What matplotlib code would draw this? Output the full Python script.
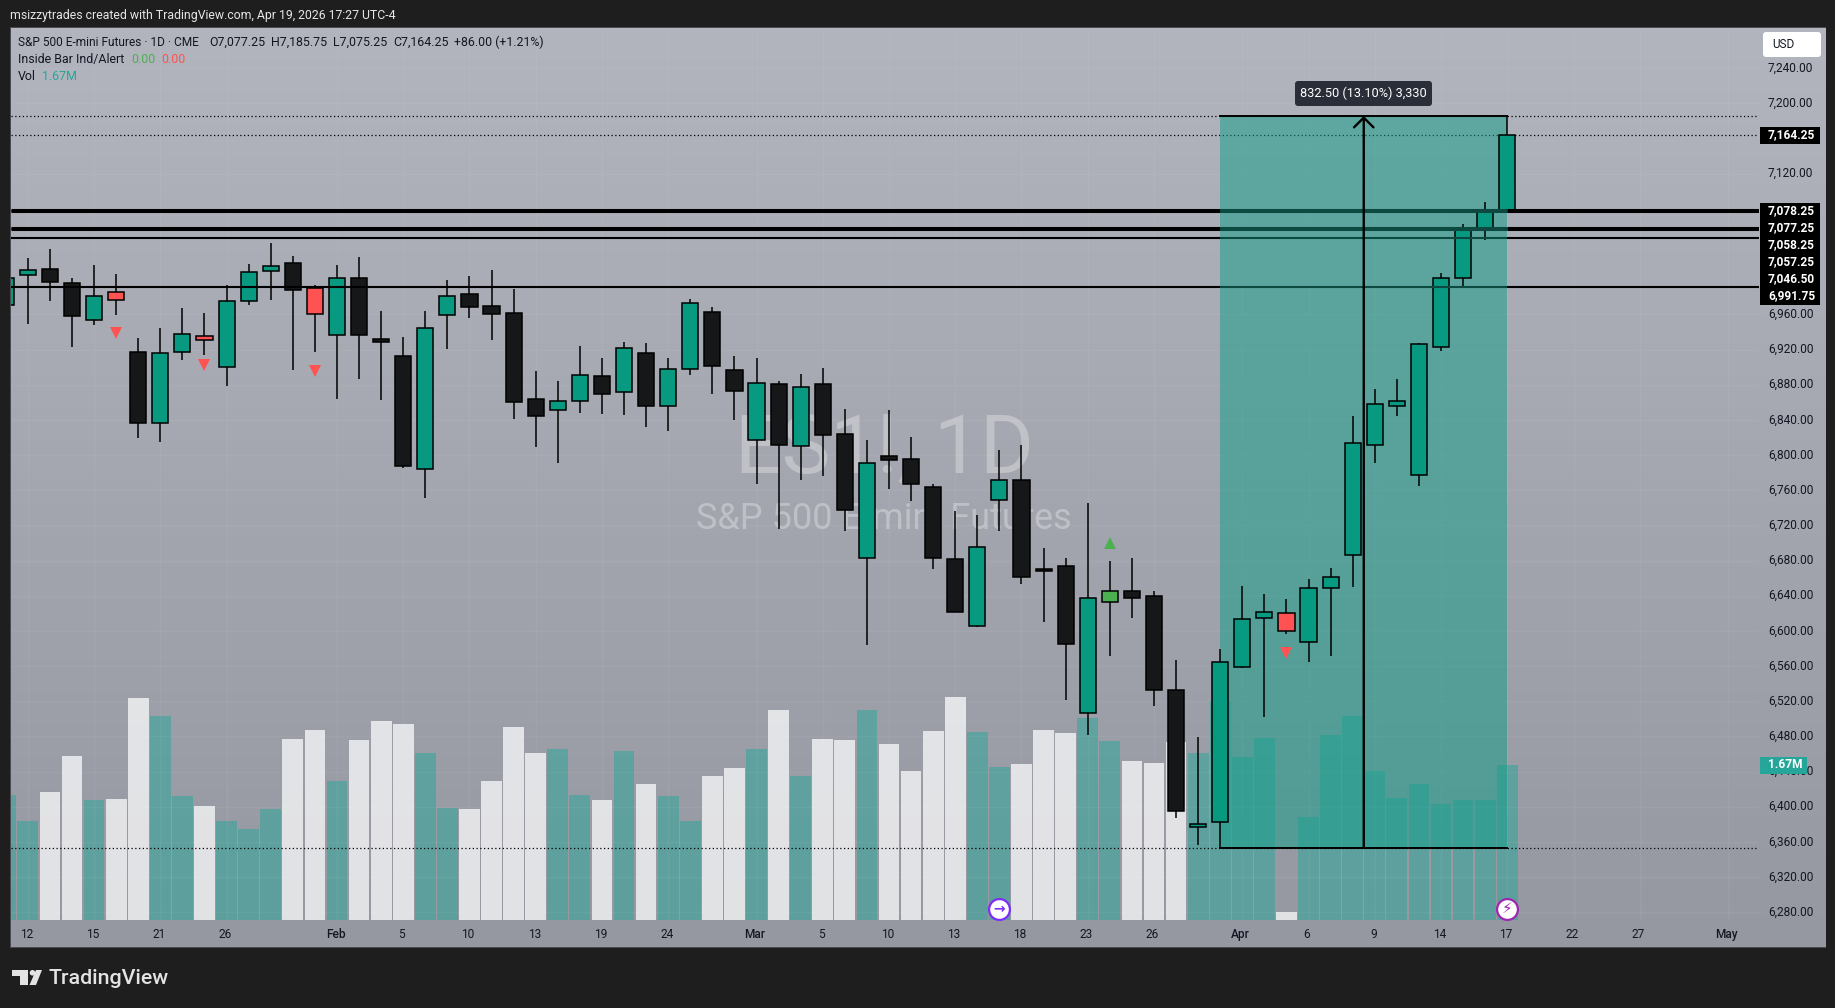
# Recreates the ES1! daily TradingView snapshot
import numpy as np
import matplotlib
matplotlib.use("Agg")
import matplotlib.pyplot as plt
from matplotlib.patches import Rectangle, FancyBboxPatch, Polygon, Circle
from matplotlib.transforms import Affine2D, ScaledTranslation

W, H = 1835, 1008
plt.rcParams['font.family'] = ['Roboto', 'DejaVu Sans']

# daily bars, first one is cut by the left edge of the pane
opens = [6971,7005,7012,6996,6954,6985,6917,6837,6917,6936,6900,6975,7009,7019,6990,6937,7002,6932,6913,6784,
         6959,6983,6970,6962,6864,6851,6861,6890,6872,6916,6856,6898,6963,6897,6817,6881,6810,6881,6824,6683,
         6799,6795,6764,6682,6606,6749,6772,6671,6674,6507,6633,6645,6640,6533,6377,6383,6559,6615,6620,6587,
         6649,6686,6812,6856,6777,6923,7002,7056,7077.25]
highs = [7010,7024,7034,7001,7016,7006,6933,6944,6967,6962,6994,7017,7041,7027,6993,7016,7025,6964,6934,6964,
         6999,7004,7010,6989,6896,6884,6924,6911,6929,6928,6911,6978,6969,6913,6910,6884,6892,6899,6852,6817,
         6851,6821,6767,6736,6732,6806,6812,6694,6683,6746,6679,6683,6645,6567,6479,6580,6651,6642,6636,6659,
         6672,6845,6875,6886,6927,7007,7063,7088,7185.75]
lows = [6960,6949,6975,6923,6948,6959,6820,6815,6908,6914,6879,6971,6976,6897,6917,6864,6887,6863,6785,6751,
        6921,6956,6931,6841,6809,6791,6848,6847,6846,6832,6827,6891,6869,6840,6767,6716,6772,6776,6714,6584,
        6761,6748,6670,6621,6605,6714,6653,6610,6521,6482,6572,6615,6515,6387,6357,6353.25,6558,6502,6597,6565,
        6571,6650,6791,6844,6765,6918,6990,7045,7075.25]
closes = [7002,7010,6997,6958,6981,6976,6836,6916,6938,6931,6975,7008,7015,6988,6960,7001,6937,6929,6788,6944,
          6981,6969,6961,6860,6844,6861,6891,6869,6922,6856,6898,6973,6901,6873,6882,6811,6877,6823,6737,6791,
          6794,6767,6683,6622,6696,6772,6661,6668,6585,6637,6645,6638,6533,6395,6380,6565,6614,6621,6600,6649,
          6661,6814,6858,6862,6926,7002,7057,7076,7164.25]
volumes = [1.35,1.07,1.38,1.77,1.29,1.30,2.39,2.20,1.34,1.23,1.07,0.98,1.20,1.95,2.05,1.50,1.94,2.14,2.11,1.80,
           1.21,1.20,1.50,2.08,1.80,1.84,1.35,1.29,1.82,1.47,1.34,1.07,1.55,1.64,1.84,2.26,1.55,1.95,1.94,2.26,
           1.90,1.61,2.04,2.40,2.03,1.65,1.68,2.05,2.02,2.18,1.93,1.71,1.69,1.92,1.80,2.36,1.76,1.96,0.09,1.11,
           1.99,2.20,1.61,1.32,1.47,1.25,1.29,1.29,1.67]
bar_index = list(range(-1, 68))

# inside bar indicator
red_bars = [4, 8, 13, 57]
green_bars = [49]
red_marks = [6939, 6903, 6896, 6575]
green_marks = [6700]

level_prices = [7078.25, 7077.25, 7058.25, 7057.25, 7046.50, 6991.75]
level_labels = ["7,078.25", "7,077.25", "7,058.25", "7,057.25", "7,046.50", "6,991.75"]
last_price = 7164.25
range_top = 7185.75
range_bottom = 6353.25
range_start = 54
range_end = 67

price_ticks = [7240,7200,7120,6960,6920,6880,6840,6800,6760,6720,6680,6640,6600,6560,6520,6480,6440,6400,6360,6320,6280]
time_ticks = [0,3,6,9,14,17,20,23,26,29,33,36,39,42,45,48,51,55,58,61,64,67,70,73,77]
time_labels = ["12","15","21","26","Feb","5","10","13","19","24","Mar","5","10","13","18","23","26","Apr","6","9","14","17","22","27","May"]

UP = "#089981"
DOWN = "#161719"
RED = "#ff5252"
GREEN = "#4caf50"
INK = "#131722"

fig = plt.figure(figsize=(W / 100, H / 100), dpi=100, facecolor="#1e1e1e")
px = Affine2D().scale(1 / W, -1 / H).translate(0, 1) + fig.transFigure


def rect_axes(x0, y0, x1, y1, **kw):
    return fig.add_axes([x0 / W, 1 - y1 / H, (x1 - x0) / W, (y1 - y0) / H], **kw)


def ptext(x, y, s, **kw):
    kw.setdefault("va", "center")
    kw.setdefault("color", INK)
    kw.setdefault("fontsize", 8.6)
    return fig.text(x, y, s, transform=px, **kw)


#%% panel background
fig.add_artist(Rectangle((10, 27), 1816, 921, transform=px, fc="#4a4c52", ec="none", zorder=-5))
ax_bg = rect_axes(11, 28, 1825, 947, zorder=-2)
grad = np.linspace(0, 1, 256).reshape(-1, 1)
top_c, bot_c = np.array([0xb2, 0xb5, 0xbe]) / 255, np.array([0x95, 0x98, 0xa1]) / 255
ax_bg.imshow(top_c + (bot_c - top_c) * grad[:, :, None], aspect="auto")
ax_bg.axis("off")
ax_bg.text(884, 451, "ES1!, 1D", transform=px, fontsize=59, color="white", alpha=0.3, ha="center", va="center")
ax_bg.text(884, 519, "S&P 500 E-mini Futures", transform=px, fontsize=26, color="white", alpha=0.3, ha="center", va="center")

pane = (11, 28, 1759, 920)
xlim = (-0.763, 78.4)
ylim = (6271.2, 7285.8)

#%% volume
axv = rect_axes(*pane, zorder=-1)
axv.patch.set_alpha(0)
axv.axis("off")
for i, o, c, v in zip(bar_index, opens, closes, volumes):
    up = c >= o
    axv.bar(i, v, width=0.94, color="#26a69a" if up else "white", alpha=0.5 if up else 0.72, linewidth=0)
axv.set_xlim(xlim)
axv.set_ylim(0, 892 / 92.8)

#%% price pane
ax = rect_axes(*pane, zorder=1)
ax.patch.set_alpha(0)
for s in ax.spines.values():
    s.set_visible(False)
ax.set_xlim(xlim)
ax.set_ylim(ylim)
ax.yaxis.tick_right()
ax.set_yticks(price_ticks, ["{:,.2f}".format(p) for p in price_ticks])
ax.set_xticks(time_ticks, time_labels)
ax.tick_params(axis="both", length=0, labelsize=8.6, labelcolor=INK)
ax.tick_params(axis="y", pad=6.5)
ax.tick_params(axis="x", pad=5.5)
nudge_y = ScaledTranslation(0, 1.5 / 100, fig.dpi_scale_trans)
nudge_x = ScaledTranslation(-1.5 / 100, 0, fig.dpi_scale_trans)
for lab in ax.get_yticklabels():
    lab.set_transform(lab.get_transform() + nudge_y)
for lab in ax.get_xticklabels():
    lab.set_transform(lab.get_transform() + nudge_x)
    if lab.get_text() in ("Feb", "Mar", "Apr", "May"):
        lab.set_fontweight("medium")
ax.grid(True, color="white", alpha=0.05, linewidth=1)
ax.set_axisbelow(True)

# long position box
ax.add_patch(Rectangle((range_start, range_bottom), range_end - range_start, range_top - range_bottom,
                       fc="#0f9d87", alpha=0.5, ec="none", zorder=4))
ax.plot([range_start, range_end], [range_top, range_top], color="black", lw=1.4, zorder=5)
ax.plot([range_start, range_end], [range_bottom, range_bottom], color="black", lw=1.4, zorder=5)
ax.axhline(range_top, color="black", lw=0.9, ls=(0, (1, 2)), zorder=3)
ax.axhline(range_bottom, color="black", lw=0.9, ls=(0, (1, 2)), zorder=3)
ax.axhline(last_price, color="black", lw=0.9, ls=(0, (1, 2)), zorder=3)

# candles
for i, o, h, l, c in zip(bar_index, opens, highs, lows, closes):
    col = UP if c >= o else DOWN
    if i in red_bars:
        col = RED
    if i in green_bars:
        col = GREEN
    ax.vlines(i, l, h, color="black", lw=1.1, zorder=5)
    ax.bar(i, abs(c - o), bottom=min(o, c), width=0.73, color=col, edgecolor="black", linewidth=1.1, zorder=6)

# levels, darker where they cross the box; close pairs read as one thick line
level_widths = [2.2, 2.2, 2.2, 2.2, 1.5, 1.5]
for p, lw in zip(level_prices, level_widths):
    ax.hlines(p, xlim[0], range_start, color="black", lw=lw, zorder=7)
    ax.hlines(p, range_end, xlim[1], color="black", lw=lw, zorder=7)
    ax.hlines(p, range_start, range_end, color="#0c4a41", lw=lw, zorder=7)

ax.plot(red_bars, red_marks, "v", color=RED, ms=8.5, mew=0, zorder=6)
ax.plot(green_bars, green_marks, "^", color=GREEN, ms=8.5, mew=0, zorder=6)

# measure arrow and its label
mid = (range_start + range_end) / 2
ax.annotate("", xy=(mid, range_top), xytext=(mid, range_bottom), zorder=8,
            arrowprops=dict(arrowstyle="->,head_length=0.7,head_width=0.7", color="black", lw=1.7,
                            shrinkA=0, shrinkB=0))

# event icons on the volume base
ax_ic = rect_axes(*pane, zorder=2)
ax_ic.patch.set_alpha(0)
ax_ic.axis("off")
ax_ic.set_xlim(xlim)
ax_ic.set_ylim(ylim)
ax_ic.plot([44], [6284], "o", ms=15, mfc="white", mec="#7b2ff7", mew=1.6)
ax_ic.text(44, 6284, "\u2192", color="#7b2ff7", fontsize=10, ha="center", va="center", family="DejaVu Sans", fontweight="bold")
ax_ic.plot([67], [6284], "o", ms=15, mfc="white", mec="#9c27b0", mew=1.6)
ax_ic.text(67, 6284, "\u26a1", color="#9c27b0", fontsize=11, ha="center", va="center", family="DejaVu Sans")

#%% labels in pixels
ptext(10, 15, "msizzytrades created with TradingView.com, Apr 19, 2026 17:27 UTC-4", color="#e6e6e6", fontsize=8.8)
ptext(18, 42, "S&P 500 E-mini Futures \u00b7 1D \u00b7 CME", fontsize=8.6)
ptext(209, 42, "O7,077.25", fontsize=8.9)
ptext(271, 42, "H7,185.75", fontsize=8.9)
ptext(333, 42, "L7,075.25", fontsize=8.9)
ptext(393, 42, "C7,164.25", fontsize=8.9)
ptext(454, 42, "+86.00 (+1.21%)", fontsize=8.9)
ptext(18, 59.5, "Inside Bar Ind/Alert", fontsize=8.9)
ptext(131, 59.5, "0.00", color=GREEN, fontsize=8.9)
ptext(161, 59.5, "0.00", color=RED, fontsize=8.9)
ptext(18, 76, "Vol", fontsize=8.9)
ptext(41.5, 76, "1.67M", color="#26a69a", fontsize=8.9)

fig.add_artist(FancyBboxPatch((1295, 81), 137, 25, boxstyle="round,pad=0,rounding_size=3", transform=px,
                              fc="#2a2e39", ec="none", zorder=3))
ptext(1363, 93.5, "832.50 (13.10%) 3,330", color="white", ha="center", fontsize=9.2, zorder=4)

# usd button
fig.add_artist(FancyBboxPatch((1763, 32), 58, 25, boxstyle="round,pad=0,rounding_size=3", transform=px,
                              fc="white", ec="none", zorder=3))
ptext(1783, 44.5, "USD", ha="center", fontsize=8.5, zorder=4)

# price badges
fig.add_artist(Rectangle((1760, 127), 60, 17, transform=px, fc="black", ec="none", zorder=3))
ptext(1768, 135, "7,164.25", color="white", fontweight="bold", zorder=4)
fig.add_artist(Rectangle((1760, 203), 60, 102, transform=px, fc="black", ec="none", zorder=3))
for n, lab in enumerate(level_labels):
    ptext(1768, 210.5 + n * 17, lab, color="white", fontweight="bold", zorder=4)
fig.add_artist(Rectangle((1760, 757), 47, 17, transform=px, fc="#26a69a", ec="none", zorder=3))
ptext(1768, 765, "1.67M", color="white", fontweight="bold", zorder=4)

# logo
logo = "#e3e3e3"
fig.add_artist(Polygon([(12, 970), (28, 970), (28, 985), (20, 985), (20, 976), (12, 976)], transform=px, fc=logo, ec="none"))
fig.add_artist(Circle((32.5, 972.8), 2.8, transform=px, fc=logo, ec="none"))
fig.add_artist(Polygon([(36, 970), (42, 970), (36, 985), (29.5, 985)], transform=px, fc=logo, ec="none"))
ptext(48, 979, "TradingView", color=logo, fontsize=15.4, fontweight="medium")

fig.savefig("out.png", dpi=100, facecolor=fig.get_facecolor())
